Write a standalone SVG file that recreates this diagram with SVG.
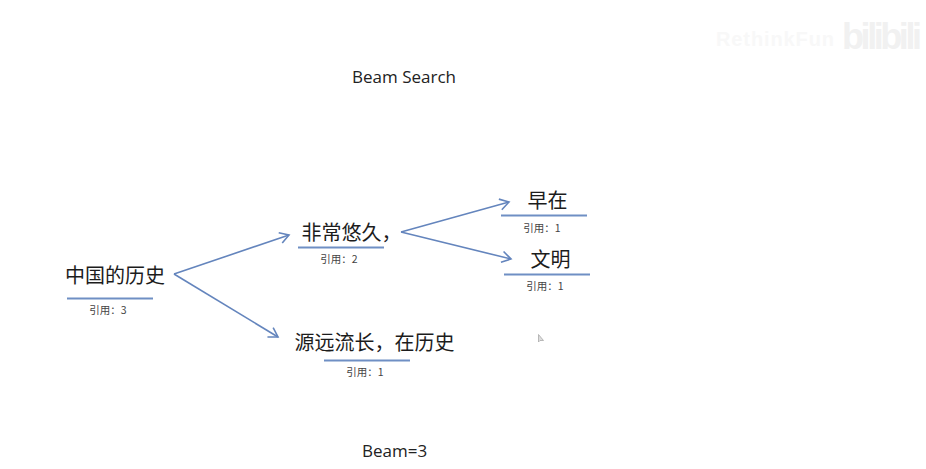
<svg xmlns="http://www.w3.org/2000/svg" width="926" height="469" viewBox="0 0 926 469">
<style>
.t{font-family:"Noto Sans CJK SC","Noto Sans",sans-serif;font-size:20px;fill:#1c1c1c}
.c{font-family:"Noto Sans CJK SC","Noto Sans",sans-serif;font-size:10.500px;fill:#444;text-anchor:middle}
.h{font-family:"Open Sans","Noto Sans",sans-serif;font-size:17px;fill:#222}
.u{stroke:#6f8fc4;stroke-width:1.800;fill:none}
.a{stroke:#6485bd;stroke-width:1.600;fill:none;marker-end:url(#ah)}
</style>
<defs>
<marker id="ah" markerUnits="userSpaceOnUse" markerWidth="16" markerHeight="16" refX="12" refY="8" orient="auto" overflow="visible">
<path d="M3 2.500L12 8L3 13.500" fill="none" stroke="#6485bd" stroke-width="1.600"/>
</marker>
</defs>
<rect width="926" height="469" fill="#fff"/>
<g id="watermark">
<text x="716" y="46" font-family="Liberation Sans,sans-serif" font-size="20" font-weight="bold" fill="#f8f8f8" textLength="118">RethinkFun</text>
<text x="842" y="49" font-family="Liberation Sans,sans-serif" font-size="36" font-weight="bold" fill="#f1f1f1" textLength="80">bilibili</text>
</g>
<text id="title" class="h" x="352" y="83">Beam Search</text>
<g id="connectors">
<path class="a" d="M174 274L289 235"/>
<path class="a" d="M174 274L278 337"/>
<path class="a" d="M401 232L509 202"/>
<path class="a" d="M401 232L511 259"/>
</g>
<g id="node-root">
<text class="t" x="65" y="283">中国的历史</text>
<path class="u" d="M67 298.500H153"/>
<text class="c" x="108" y="314">引用：3</text>
</g>
<g id="node-a">
<text class="t" x="301.500" y="240">非常悠久，</text>
<path class="u" d="M298 247.500H384"/>
<text class="c" x="339" y="263">引用：2</text>
</g>
<g id="node-b">
<text class="t" x="294.500" y="350">源远流长，在历史</text>
<path class="u" d="M324 360.500H410"/>
<text class="c" x="365" y="376">引用：1</text>
</g>
<g id="node-c">
<text class="t" x="527.500" y="208">早在</text>
<path class="u" d="M501 215.500H587"/>
<text class="c" x="542" y="232">引用：1</text>
</g>
<g id="node-d">
<text class="t" x="530.500" y="267">文明</text>
<path class="u" d="M504 274.500H590"/>
<text class="c" x="545" y="290">引用：1</text>
</g>
<path id="cursor" d="M538.500 334.500V342L540 340.500L543.500 340.500Z" fill="#ddd" stroke="#aaa" stroke-width=".8"/>
<text id="beam" class="h" x="362" y="457">Beam=3</text>
</svg>
